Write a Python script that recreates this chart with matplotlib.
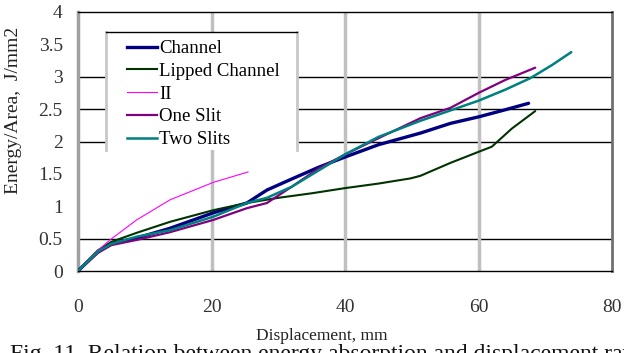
import numpy as np
import matplotlib
matplotlib.use('Agg')
import matplotlib.pyplot as plt
from matplotlib.patches import Rectangle
from matplotlib.lines import Line2D

plt.rcParams['font.family'] = ['Liberation Serif', 'DejaVu Serif']

# data
channel_x = [0, 3, 5, 8.8, 13.8, 20.3, 25.3, 28.3, 32, 36, 40, 45, 51.3, 55.8, 60, 64, 67.5]
channel_y = [0, 0.3, 0.42, 0.51, 0.66, 0.9, 1.05, 1.25, 1.42, 1.6, 1.76, 1.95, 2.13, 2.28, 2.38, 2.49, 2.59]

lipped_x = [0, 3, 5, 8.8, 13.8, 20.3, 25.3, 30, 35, 40, 45, 49.8, 51.3, 55.8, 60, 62, 65, 68.5]
lipped_y = [0, 0.32, 0.45, 0.59, 0.76, 0.94, 1.05, 1.13, 1.2, 1.28, 1.35, 1.43, 1.47, 1.67, 1.84, 1.92, 2.2, 2.47]

ii_x = [0, 3, 4.8, 8.8, 13.8, 20.3, 25.5]
ii_y = [0, 0.32, 0.48, 0.79, 1.10, 1.37, 1.53]

one_x = [0, 3, 5, 8.8, 13.8, 20.3, 25.3, 28.3, 32, 36, 40, 45, 51.3, 55.8, 60, 64, 68.5]
one_y = [0, 0.28, 0.4, 0.48, 0.6, 0.79, 0.97, 1.05, 1.3, 1.58, 1.8, 2.05, 2.36, 2.52, 2.75, 2.95, 3.14]

two_x = [0, 3, 5, 8.8, 13.8, 20.3, 25.3, 28.3, 32, 36, 40, 45, 51.3, 55.8, 60, 64, 67.8, 71, 73.9]
two_y = [0, 0.3, 0.42, 0.53, 0.63, 0.84, 1.05, 1.13, 1.3, 1.55, 1.8, 2.07, 2.32, 2.48, 2.63, 2.8, 2.98, 3.18, 3.38]

series = [
    ('Channel', channel_x, channel_y, '#000080', 2.4),
    ('Lipped Channel', lipped_x, lipped_y, '#003300', 1.5),
    ('II', ii_x, ii_y, '#ff00ff', 0.8),
    ('One Slit', one_x, one_y, '#800080', 1.6),
    ('Two Slits', two_x, two_y, '#008080', 1.8),
]

grid_y = [0.5, 2, 2.5, 3]
grid_x = [20, 40, 60]

W, H = 624, 353
fig = plt.figure(figsize=(W / 100, H / 100), dpi=100)
ax = fig.add_axes([78 / W, (H - 271) / H, (612 - 78) / W, (271 - 12) / H])

for g in grid_y:
    ax.axhline(g, color='black', lw=1.0, zorder=1)
for g in grid_x:
    ax.axvline(g, color='#c0c0c0', lw=2.5, zorder=1)

handles = []
for name, xs, ys, col, lw in series:
    ax.plot(xs, ys, color=col, lw=lw, zorder=3, solid_capstyle='round')
    handles.append(Line2D([], [], color=col, lw=lw, label=name))

ax.set_xlim(0, 80)
ax.set_ylim(0, 4)
ax.set_xticks([0, 20, 40, 60, 80])
ax.set_yticks([0, 0.5, 1, 1.5, 2, 2.5, 3, 3.5, 4])
ax.set_yticklabels(['0', '0.5', '1', '1.5', '2', '2.5', '3', '3.5', '4'])
ax.tick_params(length=0, labelsize=14, labelcolor='#333333')
ax.tick_params(axis='x', pad=20)
ax.tick_params(axis='y', pad=11)

ax.spines['left'].set_color('#a0a0a0')
ax.spines['left'].set_linewidth(2.5)
ax.spines['right'].set_color('#707070')
ax.spines['right'].set_linewidth(2)
ax.spines['top'].set_color('black')
ax.spines['top'].set_linewidth(1)
ax.spines['bottom'].set_color('black')
ax.spines['bottom'].set_linewidth(1)

# legend box
box = Rectangle((106 / W, 1 - 150 / H), (297 - 106) / W, (150 - 32) / H,
                transform=fig.transFigure, facecolor='white', edgecolor='none', zorder=4)
ax.add_patch(box)
box.set_clip_on(False)
ax.add_line(Line2D([106 / W, 106 / W], [1 - 150 / H, 1 - 32 / H], transform=fig.transFigure,
                   color='#c8c8c8', lw=2, zorder=4.5, clip_on=False))
ax.add_line(Line2D([297 / W, 297 / W], [1 - 150 / H, 1 - 32 / H], transform=fig.transFigure,
                   color='#c8c8c8', lw=2, zorder=4.5, clip_on=False))
ax.add_line(Line2D([106 / W, 297 / W], [1 - 32 / H, 1 - 32 / H], transform=fig.transFigure,
                   color='black', lw=1, zorder=4.5, clip_on=False))

leg = ax.legend(handles=handles, loc='upper left', bbox_to_anchor=(112 / W, 1 - 25 / H),
                bbox_transform=fig.transFigure, frameon=False, fontsize=13.5,
                handlelength=1.6, handletextpad=0.1, labelspacing=0.3, borderpad=0.3)
leg.set_zorder(5)

fig.text(14 / W, 1 - 110 / H, 'Energy/Area,  J/mm2', rotation=90, ha='center', va='center',
         fontsize=14, color='#222222')
fig.text(322 / W, 1 - 336 / H, 'Displacement, mm', ha='center', va='center',
         fontsize=12.5, color='#222222')
fig.text(10 / W, 1 - 344 / H, 'Fig. 11. Relation between energy absorption and displacement ratio',
         ha='left', va='top', fontsize=17, color='#111111')

fig.savefig('out.png', dpi=100)
